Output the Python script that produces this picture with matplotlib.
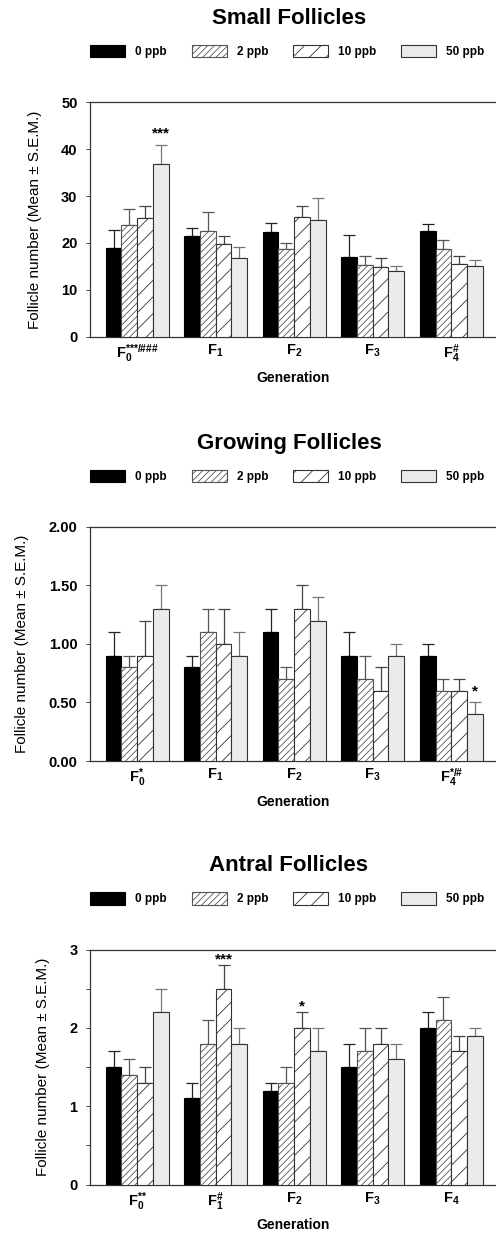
import matplotlib
matplotlib.use('Agg')
import matplotlib.pyplot as plt
import matplotlib.ticker as mticker
import numpy as np

plt.rcParams['font.family'] = ['Liberation Sans', 'DejaVu Sans']
plt.rcParams['mathtext.fontset'] = 'custom'
plt.rcParams['mathtext.rm'] = 'Liberation Sans:bold'
plt.rcParams['mathtext.bf'] = 'Liberation Sans:bold'
plt.rcParams['mathtext.default'] = 'bf'
plt.rcParams['hatch.linewidth'] = 0.6

doses = ['0 ppb', '2 ppb', '10 ppb', '50 ppb']
generations = ['F0', 'F1', 'F2', 'F3', 'F4']

# small follicles
small_mean = [[18.9, 21.4, 22.4, 17.0, 22.6],
              [23.8, 22.6, 18.7, 15.3, 18.7],
              [25.3, 19.7, 25.5, 14.9, 15.5],
              [36.8, 16.8, 24.9, 14.1, 15.1]]
small_sem = [[3.9, 1.7, 1.9, 4.8, 1.4],
             [3.5, 4.1, 1.4, 2.0, 1.9],
             [2.6, 1.8, 2.3, 1.9, 1.8],
             [4.1, 2.3, 4.6, 1.1, 1.3]]
small_marks = ['***/###', '', '', '', '#']
small_stars = [(0, 3, '***')]

# growing follicles
growing_mean = [[0.9, 0.8, 1.1, 0.9, 0.9],
                [0.8, 1.1, 0.7, 0.7, 0.6],
                [0.9, 1.0, 1.3, 0.6, 0.6],
                [1.3, 0.9, 1.2, 0.9, 0.4]]
growing_sem = [[0.2, 0.1, 0.2, 0.2, 0.1],
               [0.1, 0.2, 0.1, 0.2, 0.1],
               [0.3, 0.3, 0.2, 0.2, 0.1],
               [0.2, 0.2, 0.2, 0.1, 0.1]]
growing_marks = ['*', '', '', '', '*/#']
growing_stars = [(4, 3, '*')]

# antral follicles
antral_mean = [[1.5, 1.1, 1.2, 1.5, 2.0],
               [1.4, 1.8, 1.3, 1.7, 2.1],
               [1.3, 2.5, 2.0, 1.8, 1.7],
               [2.2, 1.8, 1.7, 1.6, 1.9]]
antral_sem = [[0.2, 0.2, 0.1, 0.3, 0.2],
              [0.2, 0.3, 0.2, 0.3, 0.3],
              [0.2, 0.3, 0.2, 0.2, 0.2],
              [0.3, 0.2, 0.3, 0.2, 0.1]]
antral_marks = ['**', '#', '', '', '']
antral_stars = [(1, 2, '***'), (2, 2, '*')]

# bar styles per dose
face = ['black', 'white', 'white', '#ebebeb']
edge = ['black', '#555555', '#333333', '#333333']
hatch = [None, '/////', '//', None]
err_col = ['#222222', '#555555', '#444444', '#777777']


def tick_label(gen, mark):
    if mark:
        return r'$F_{%s}^{\text{%s}}$' % (gen[1], mark)
    return r'$F_{%s}$' % gen[1]


def draw_panel(ax, title, means, sems, marks, stars, ylim, yticks, fmt, minor=None,
               star_off=4, ylabelpad=14):
    x = np.arange(len(generations))
    w = 0.2
    for i in range(len(doses)):
        xs = x + (i - 1.5) * w
        ax.bar(xs, means[i], w, color=face[i], edgecolor=edge[i], hatch=hatch[i],
               linewidth=0.8, label=doses[i], zorder=3)
        ax.errorbar(xs, means[i], yerr=[np.zeros(len(x)), sems[i]], fmt='none',
                    ecolor=err_col[i], elinewidth=0.9, capsize=4.5, capthick=0.9, zorder=2)
    for g, d, s in stars:
        top = means[d][g] + sems[d][g]
        ax.annotate(s, (x[g] + (d - 1.5) * w, top), xytext=(0, star_off), textcoords='offset points',
                    ha='center', va='bottom', fontsize=11, fontweight='bold')

    ax.set_xlim(-0.6, 4.57)
    ax.set_ylim(*ylim)
    ax.set_yticks(yticks)
    ax.yaxis.set_major_formatter(mticker.FormatStrFormatter(fmt))
    if minor is not None:
        ax.yaxis.set_minor_locator(mticker.MultipleLocator(minor))
        ax.tick_params(axis='y', which='minor', length=3, width=0.7, color='#444444')
    ax.set_xticks(x)
    ax.set_xticklabels([tick_label(g, m) for g, m in zip(generations, marks)], fontsize=10.5)
    ax.tick_params(axis='x', length=0, pad=4)
    ax.tick_params(axis='y', which='major', length=3, width=0.7, color='#444444', pad=6, labelsize=10.5)
    for lab in ax.get_yticklabels():
        lab.set_fontweight('bold')
    for side in ['left', 'bottom', 'top']:
        ax.spines[side].set_color('#333333')
        ax.spines[side].set_linewidth(0.9)
    ax.spines['right'].set_visible(False)

    ax.set_ylabel('Follicle number (Mean \u00b1 S.E.M.)', fontsize=11, labelpad=ylabelpad)
    ax.set_xlabel('Generation', fontsize=10, fontweight='bold', labelpad=4)
    ax.text(0.49, 1.357, title, transform=ax.transAxes, ha='center', va='center',
            fontsize=16, fontweight='bold')
    ax.legend(loc='center left', bbox_to_anchor=(0, 1.215), ncol=4, frameon=False,
              borderpad=0, borderaxespad=0, handlelength=2.97, handleheight=1.19,
              handletextpad=0.85, columnspacing=2.1,
              prop={'weight': 'bold', 'size': 8.5})


fig = plt.figure(figsize=(4.96, 12.37), dpi=100)
ax1 = fig.add_axes([0.1815, 0.7276, 0.8185, 0.1899])
ax2 = fig.add_axes([0.1815, 0.3848, 0.8185, 0.1892])
ax3 = fig.add_axes([0.1815, 0.0424, 0.8185, 0.1900])

draw_panel(ax1, 'Small Follicles', small_mean, small_sem, small_marks, small_stars,
           (0, 50), [0, 10, 20, 30, 40, 50], '%d', star_off=3)
draw_panel(ax2, 'Growing Follicles', growing_mean, growing_sem, growing_marks, growing_stars,
           (0, 2), [0, 0.5, 1.0, 1.5, 2.0], '%.2f', star_off=3)
draw_panel(ax3, 'Antral Follicles', antral_mean, antral_sem, antral_marks, antral_stars,
           (0, 3), [0, 1, 2, 3], '%d', minor=0.5, star_off=-1)

fig.savefig('out.png', dpi=100)
